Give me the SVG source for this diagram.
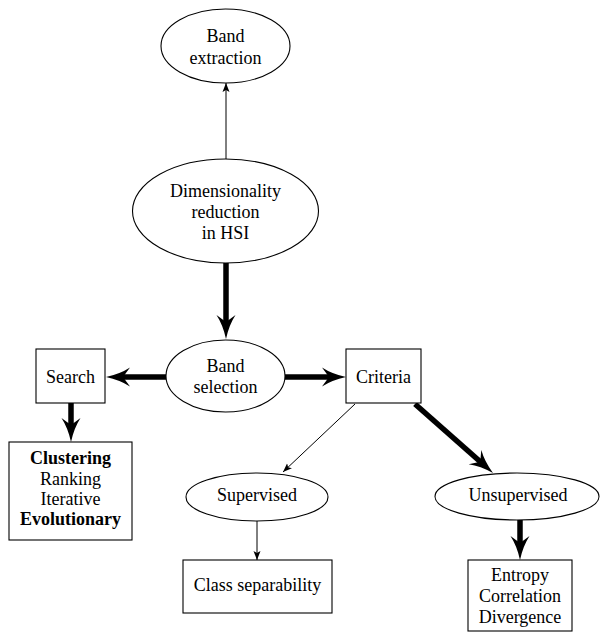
<svg xmlns="http://www.w3.org/2000/svg" width="600" height="632" viewBox="0 0 600 632">
  <style>
    .shape { fill: #ffffff; stroke: #000000; stroke-width: 1.1; }
    .label { font-family: "Liberation Serif", "Times New Roman", serif; font-size: 18px; fill: #000000; text-anchor: middle; }
    .bold { font-weight: bold; }
    .thin { stroke: #000000; stroke-width: 1; fill: none; }
    .thick { stroke: #000000; stroke-width: 5.5; fill: none; }
  </style>
  <defs>
    <marker id="headThick" viewBox="0 -10 24 20" markerUnits="userSpaceOnUse" markerWidth="24" markerHeight="20" refX="12" refY="0" orient="auto">
      <path d="M0,-9.5 Q10,-3 24,0 Q10,3 0,9.5 L7,0 Z" fill="#000000"/>
    </marker>
    <marker id="headThin" viewBox="0 -4 9 8" markerUnits="userSpaceOnUse" markerWidth="9" markerHeight="8" refX="9" refY="0" orient="auto">
      <path d="M0,-3.5 L9,0 L0,3.5 L2,0 Z" fill="#000000"/>
    </marker>
  </defs>

  <!-- connectors -->
  <g id="connectors">
    <line class="thin" x1="226" y1="159" x2="226" y2="83" marker-end="url(#headThin)"/>
    <line class="thick" x1="226" y1="263" x2="226" y2="327" marker-end="url(#headThick)"/>
    <line class="thick" x1="166" y1="377" x2="118" y2="377" marker-end="url(#headThick)"/>
    <line class="thick" x1="285" y1="377" x2="334" y2="377" marker-end="url(#headThick)"/>
    <line class="thick" x1="71" y1="403" x2="71" y2="430" marker-end="url(#headThick)"/>
    <line class="thin" x1="355" y1="404" x2="283" y2="472" marker-end="url(#headThin)"/>
    <line class="thick" x1="415" y1="404" x2="484" y2="465" marker-end="url(#headThick)"/>
    <line class="thin" x1="257" y1="521" x2="257" y2="560" marker-end="url(#headThin)"/>
    <line class="thick" x1="520" y1="520" x2="520" y2="548" marker-end="url(#headThick)"/>
  </g>

  <g id="band-extraction">
    <ellipse class="shape" cx="225.5" cy="46" rx="64.5" ry="37"/>
    <text class="label" x="225.5" y="42">Band</text>
    <text class="label" x="225.5" y="64">extraction</text>
  </g>

  <g id="dimensionality-reduction">
    <ellipse class="shape" cx="225.5" cy="211" rx="93" ry="52"/>
    <text class="label" x="225.5" y="197">Dimensionality</text>
    <text class="label" x="225.5" y="218">reduction</text>
    <text class="label" x="225.5" y="239">in HSI</text>
  </g>

  <g id="band-selection">
    <ellipse class="shape" cx="225.5" cy="376" rx="59.5" ry="36"/>
    <text class="label" x="225.5" y="372">Band</text>
    <text class="label" x="225.5" y="393">selection</text>
  </g>

  <g id="search">
    <rect class="shape" x="36" y="349" width="69" height="54"/>
    <text class="label" x="70.5" y="383">Search</text>
  </g>

  <g id="criteria">
    <rect class="shape" x="346" y="349" width="75" height="54"/>
    <text class="label" x="383.5" y="383">Criteria</text>
  </g>

  <g id="search-methods">
    <rect class="shape" x="9" y="442" width="123" height="98"/>
    <text class="label bold" x="70.5" y="464">Clustering</text>
    <text class="label" x="70.5" y="485">Ranking</text>
    <text class="label" x="70.5" y="505">Iterative</text>
    <text class="label bold" x="70.5" y="525">Evolutionary</text>
  </g>

  <g id="supervised">
    <ellipse class="shape" cx="257" cy="497" rx="71" ry="24"/>
    <text class="label" x="257" y="501">Supervised</text>
  </g>

  <g id="unsupervised">
    <ellipse class="shape" cx="517" cy="496.5" rx="82" ry="23.5"/>
    <text class="label" x="518" y="501">Unsupervised</text>
  </g>

  <g id="class-separability">
    <rect class="shape" x="183" y="560" width="149" height="53"/>
    <text class="label" x="257.5" y="591">Class separability</text>
  </g>

  <g id="unsupervised-measures">
    <rect class="shape" x="468" y="560" width="104" height="71"/>
    <text class="label" x="520" y="581">Entropy</text>
    <text class="label" x="520" y="602">Correlation</text>
    <text class="label" x="520" y="623">Divergence</text>
  </g>
</svg>
